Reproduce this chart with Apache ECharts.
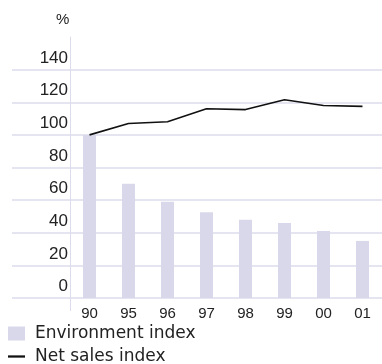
<!DOCTYPE html>
<html>
<head>
<meta charset="utf-8">
<script src="https://cdn.jsdelivr.net/npm/echarts@6/dist/echarts.min.js"></script>
<style>
  html, body { margin: 0; padding: 0; background: #fff; }
  #chart { width: 382px; height: 364px; }
</style>
</head>
<body>
<div id="chart"></div>
<script>
// Years (two-digit) on the category axis
const years = ['90', '95', '96', '97', '98', '99', '00', '01'];
// Index values, 1990 = 100
const environmentIndex = [100, 70, 59, 52.5, 48, 46, 41, 35];
const netSalesIndex = [100, 107, 108, 116, 115.5, 121.5, 118, 117.5];
// Value axis range and step
const yMin = 0;
const yMax = 160;
const yStep = 20;

const gridColor = '#dddcec';
const barColor = '#d9d8ea';
const textColor = '#222';

const chart = echarts.init(document.getElementById('chart'), null, { renderer: 'canvas' });

const gridTop = 37;
const gridBottom = 66;

const legendText = { fontFamily: 'DejaVu Sans', fontSize: 17, color: textColor, padding: [0, 0, 0, 5] };

chart.setOption({
  animation: false,
  title: {
    text: '%',
    left: 56,
    top: 12,
    padding: 0,
    textStyle: { fontFamily: 'Liberation Sans', fontSize: 15, fontWeight: 'normal', color: textColor }
  },
  legend: [
    {
      left: 8,
      top: 325,
      padding: 0,
      itemWidth: 17,
      itemHeight: 14,
      textStyle: legendText,
      data: [{ name: 'Environment index', icon: 'rect' }]
    },
    {
      left: 8,
      top: 348,
      padding: 0,
      itemWidth: 17,
      itemHeight: 14,
      textStyle: legendText,
      data: [{ name: 'Net sales index', icon: 'path://M0,0H15V2H0Z' }]
    }
  ],
  grid: [
    { left: 70, top: gridTop, width: 316, bottom: gridBottom },
    // narrow strip to the left so the horizontal rules run under the labels
    { left: 12, top: gridTop, width: 58, bottom: gridBottom }
  ],
  xAxis: [
    {
      type: 'category',
      gridIndex: 0,
      data: years,
      boundaryGap: true,
      axisLine: { show: false },
      axisTick: {
        show: true,
        interval: function (i) { return i === 0; },
        length: 13,
        lineStyle: { color: gridColor, width: 1 }
      },
      axisLabel: { fontFamily: 'Liberation Sans', fontSize: 15, color: textColor, margin: 8 }
    },
    { type: 'category', gridIndex: 1, data: [''], show: false }
  ],
  yAxis: [
    {
      type: 'value',
      gridIndex: 0,
      min: yMin,
      max: yMax,
      interval: yStep,
      axisLine: { show: true, lineStyle: { color: gridColor, width: 1 } },
      axisTick: { show: false },
      axisLabel: {
        showMaxLabel: false,
        fontFamily: 'Liberation Sans',
        fontSize: 17,
        color: textColor,
        margin: 2,
        verticalAlign: 'bottom',
        padding: [0, 0, 3, 0]
      },
      splitLine: { show: true, showMaxLine: false, lineStyle: { color: gridColor, width: 1.5 } }
    },
    {
      type: 'value',
      gridIndex: 1,
      min: yMin,
      max: yMax,
      interval: yStep,
      axisLine: { show: false },
      axisTick: { show: false },
      axisLabel: { show: false },
      splitLine: { show: true, showMaxLine: false, lineStyle: { color: gridColor, width: 1.5 } }
    }
  ],
  series: [
    {
      name: 'Environment index',
      type: 'bar',
      xAxisIndex: 0,
      yAxisIndex: 0,
      data: environmentIndex,
      barWidth: 13,
      itemStyle: { color: barColor }
    },
    {
      name: 'Net sales index',
      type: 'line',
      xAxisIndex: 0,
      yAxisIndex: 0,
      data: netSalesIndex,
      symbol: 'none',
      lineStyle: { color: '#111', width: 1.6 },
      itemStyle: { color: '#111' }
    }
  ]
});
</script>
</body>
</html>
